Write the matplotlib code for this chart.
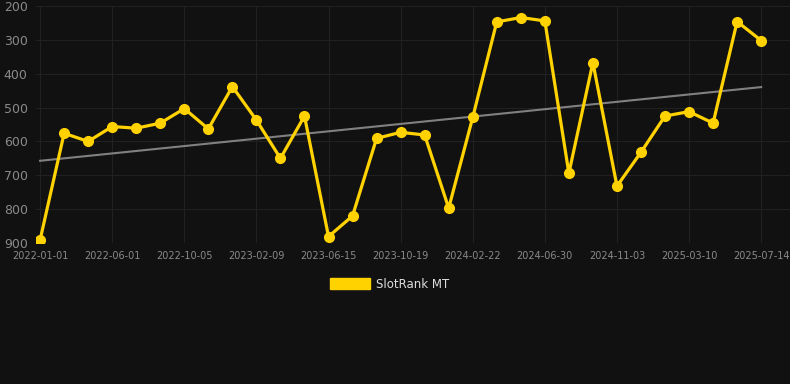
import numpy as np
import matplotlib
matplotlib.use("Agg")
from matplotlib import pyplot as plt
from matplotlib.patches import Patch

# rank values (lower is better), one per sample
ranks = [891, 576, 600, 556, 561, 546, 503, 563, 438, 537,
         650, 525, 881, 820, 591, 573, 581, 797, 529, 247,
         234, 244, 694, 367, 732, 632, 525, 512, 546, 246, 302]
tick_labels = ["2022-01-01", "2022-06-01", "2022-10-05", "2023-02-09",
               "2023-06-15", "2023-10-19", "2024-02-22", "2024-06-30",
               "2024-11-03", "2025-03-10", "2025-07-14"]
y_ticks = [200, 300, 400, 500, 600, 700, 800, 900]
series_name = "SlotRank MT"

bg = "#111111"
gold = "#FFD200"

x = np.arange(len(ranks))
k, b = np.polyfit(x, ranks, 1)

fig = plt.figure(figsize=(7.9, 3.84), dpi=100, facecolor=bg)
ax = fig.add_axes([36/790, 1-243/384, 1-36/790, 237/384])
ax.set_facecolor(bg)

ax.plot(x, k*x + b, color="#808080", lw=1.5, zorder=2)
ax.plot(x, ranks, color=gold, lw=2.3, marker="o", ms=7, zorder=3)

ax.set_xlim(-0.17, len(ranks) - 1 + 1.2)
ax.set_ylim(900, 200)
ax.set_yticks(y_ticks)
ax.set_xticks(x[::3])
ax.set_xticklabels(tick_labels)

ax.grid(True, color="#212121", lw=0.8)
ax.set_axisbelow(True)
for s in ax.spines.values():
    s.set_visible(False)
ax.tick_params(axis="y", colors="#8a8a8a", labelsize=9, length=0, pad=6)
ax.tick_params(axis="x", colors="#8a8a8a", labelsize=7, length=0, pad=6)

fig.legend(handles=[Patch(facecolor=gold, edgecolor=gold)], labels=[series_name],
           loc="center", bbox_to_anchor=(390/790, 1-284/384), frameon=False,
           handlelength=3.4, handleheight=1.0, handletextpad=0.5,
           labelcolor="#dddddd", fontsize=8.5)

fig.savefig("out.png", dpi=100, facecolor=bg)
